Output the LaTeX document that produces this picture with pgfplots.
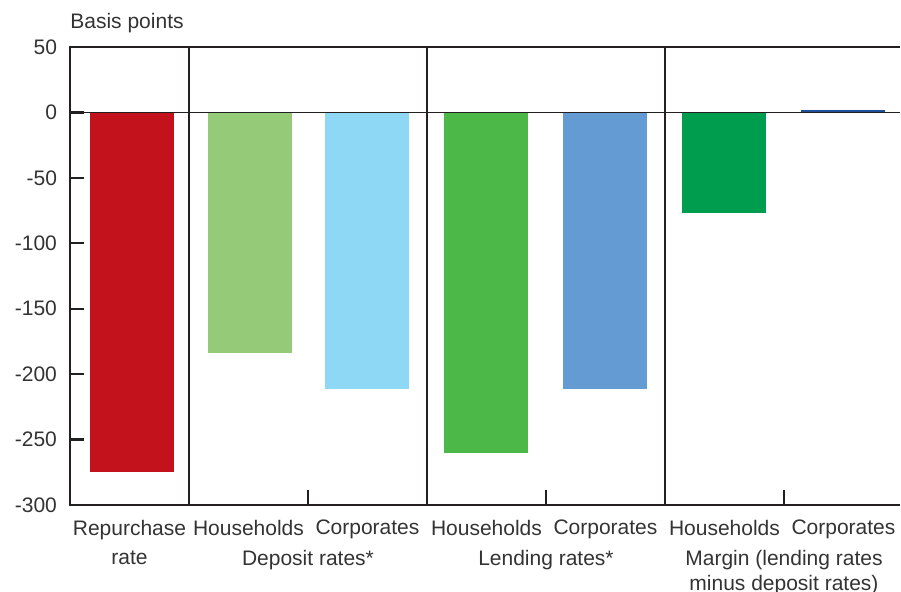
\documentclass[border=0pt]{standalone}
\usepackage{fontspec}
\setmainfont{Liberation Sans}
\usepackage{pgfplots}
\pgfplotsset{compat=1.18}

\definecolor{txt}{HTML}{333333}
\definecolor{axc}{HTML}{231F20}
\definecolor{cRepo}{HTML}{C4121C}
\definecolor{cDepH}{HTML}{95CB78}
\definecolor{cDepC}{HTML}{8ED8F6}
\definecolor{cLenH}{HTML}{4CB848}
\definecolor{cLenC}{HTML}{659BD3}
\definecolor{cMarH}{HTML}{009D4E}
\definecolor{cMarC}{HTML}{1F4E9A}

\begin{document}
\begin{tikzpicture}[font=\fontsize{10.5}{14.5}\selectfont, text=txt]
\begin{axis}[
    width=415pt, height=229pt,
    scale only axis,
    xmin=-0.5, xmax=6.475,
    ymin=-300, ymax=50,
    ytick={-300,-250,...,50},
    xtick={0,...,6},
    xticklabels={Repurchase\\rate, Households, Corporates, Households, Corporates, Households, Corporates},
    xticklabel style={align=center, anchor=north, yshift=-4pt, text=txt},
    yticklabel style={xshift=-3pt, text=txt},
    /pgf/number format/assume math mode=true,
    ytick pos=left,
    tick align=inside,
    major tick length=7pt,
    y tick style={line width=1.2pt, color=axc},
    x tick style={draw=none},
    axis line style={draw=none},
    clip=false,
]
% one bar per category, each with its own colour
\addplot[ybar, bar width=42pt, fill=cRepo, draw=none] coordinates {(0.02,-275)};
\addplot[ybar, bar width=42pt, fill=cDepH, draw=none] coordinates {(1.01,-184)};
\addplot[ybar, bar width=42pt, fill=cDepC, draw=none] coordinates {(2,-211)};
\addplot[ybar, bar width=42pt, fill=cLenH, draw=none] coordinates {(3,-260)};
\addplot[ybar, bar width=42pt, fill=cLenC, draw=none] coordinates {(4,-211)};
\addplot[ybar, bar width=42pt, fill=cMarH, draw=none] coordinates {(5,-77)};
\addplot[ybar, bar width=42pt, fill=cMarC, draw=none] coordinates {(6,1.5)};

% zero line
\draw[axc, line width=0.8pt] (axis cs:-0.5,0) -- (axis cs:6.475,0);
% frame: left, top, bottom
\draw[axc, line width=1.3pt] (axis cs:6.475,-300) -- (axis cs:-0.5,-300) -- (axis cs:-0.5,50) -- (axis cs:6.475,50);
% group separators
\draw[axc, line width=1.3pt] (axis cs:0.5,-300) -- (axis cs:0.5,50);
\draw[axc, line width=1.3pt] (axis cs:2.5,-300) -- (axis cs:2.5,50);
\draw[axc, line width=1.3pt] (axis cs:4.5,-300) -- (axis cs:4.5,50);
% small ticks within groups
\draw[axc, line width=1.3pt] (axis cs:1.5,-300) -- (axis cs:1.5,-288.5);
\draw[axc, line width=1.3pt] (axis cs:3.5,-300) -- (axis cs:3.5,-288.5);
\draw[axc, line width=1.3pt] (axis cs:5.5,-300) -- (axis cs:5.5,-288.5);

% group labels
\node[anchor=north, yshift=-19pt, align=center] at (axis cs:1.5,-300) {Deposit rates*};
\node[anchor=north, yshift=-19pt, align=center] at (axis cs:3.5,-300) {Lending rates*};
\node[anchor=north, yshift=-19pt, align=center, font=\fontsize{10.5}{12.5}\selectfont] at (axis cs:5.5,-300) {Margin (lending rates\\minus deposit rates)};

\node[anchor=base west, inner sep=0pt, yshift=9pt] at (axis cs:-0.5,50) {Basis points};
\end{axis}
\pgfresetboundingbox
\useasboundingbox ([xshift=-35pt, yshift=-43.5pt]current axis.south west) rectangle ([xshift=0.5pt, yshift=23.5pt]current axis.north east);
\end{tikzpicture}
\end{document}
